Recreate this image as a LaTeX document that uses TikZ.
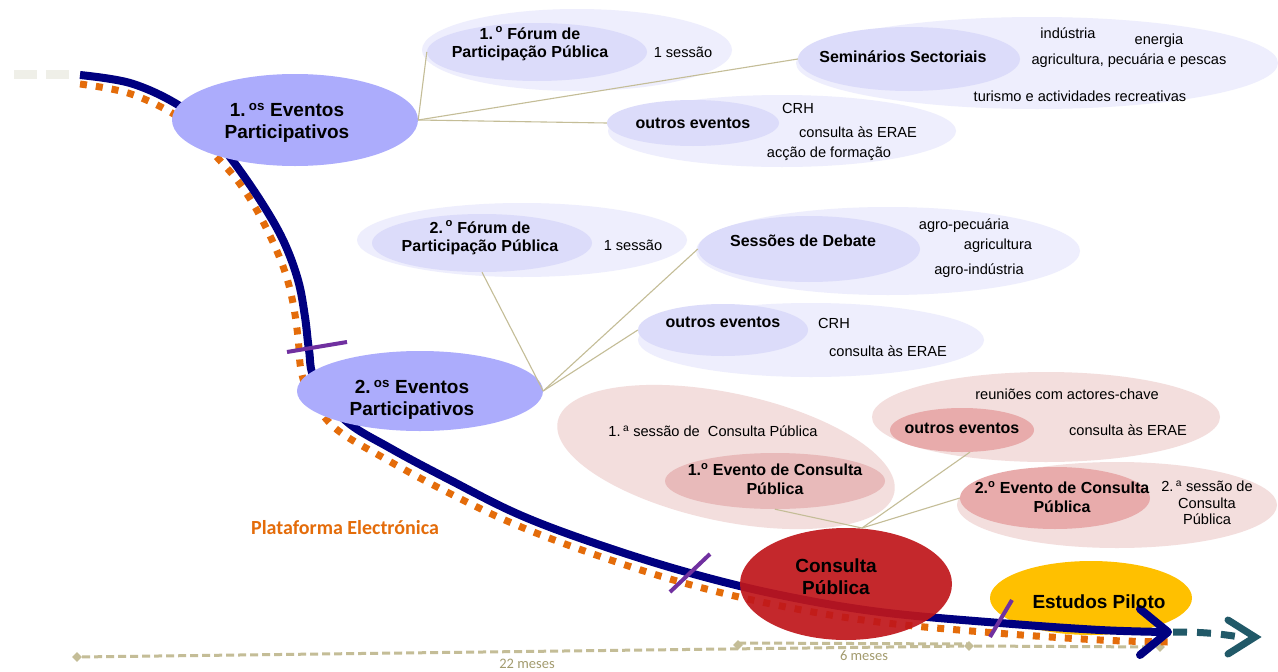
\documentclass[tikz,border=0pt]{standalone}
\usepackage{fontspec}
\setmainfont{Liberation Sans}
\newfontfamily\calib{Carlito}
\usetikzlibrary{shapes.geometric}
\definecolor{navyl}{HTML}{000080}
\definecolor{orangel}{HTML}{E46C0A}
\definecolor{purpl}{HTML}{7030A0}
\definecolor{teall}{HTML}{215968}
\definecolor{tanl}{HTML}{C4BD97}
\definecolor{tantext}{HTML}{A39B6E}
\definecolor{greyd}{HTML}{EFEFE8}
\definecolor{bigblue}{HTML}{ACACFC}
\definecolor{lavout}{HTML}{EEEEFD}
\definecolor{lavin}{HTML}{DCDCFA}
\definecolor{pinkout}{HTML}{F3DEDD}
\definecolor{pinkinA}{HTML}{E8BABA}
\definecolor{pinkinB}{HTML}{E8ABAB}
\definecolor{redc}{HTML}{C0161B}
\definecolor{yellowc}{HTML}{FFC000}
\begin{document}
\begin{tikzpicture}[x=1pt,y=-1pt,
  ell/.style={ellipse, inner sep=0pt, draw=none},
  bigt/.style={font=\fontsize{19}{22}\selectfont\bfseries, align=center, inner sep=0pt},
  hdt/.style={font=\fontsize{16}{18.5}\selectfont\bfseries, align=center, inner sep=0pt},
  subt/.style={font=\fontsize{14.6}{16.5}\selectfont, align=center, inner sep=0pt},
  conn/.style={draw=tanl, line width=1.1pt},
  tline/.style={draw=tanl, line width=3pt, dash pattern=on 8pt off 4pt},
  dia/.style={diamond, fill=tanl, inner sep=0pt, minimum size=10pt},
  tick/.style={draw=purpl, line width=4pt},
]
\useasboundingbox[fill=white] (0,0) rectangle (1278,672);

% timeline
\node[dia] (d0) at (77,657) {};
\node[dia] (d1) at (738,645) {};
\node[dia] (d2) at (969,646) {};
\node[dia] (d3) at (1160,647) {};
\draw[tline] (d0) -- (d2);
\draw[tline] ([yshift=2pt]d1.center) -- ([yshift=2pt]d2.center);
\draw[tline] (d2) -- (d3);
\node[font=\calib\fontsize{14.5}{16}\selectfont, text=tantext] (m22) at (527,664) {22 meses};
\node[font=\calib\fontsize{14.5}{16}\selectfont, text=tantext] (m6) at (864,656) {6 meses};

% start grey dashes
\draw[greyd, line width=9pt, dash pattern=on 23pt off 9pt] (14,74) -- (76,74);

% lavender groups
\node[ell, fill=lavout, minimum width=310pt, minimum height=82pt] (F1o) at (577,50) {};
\node[ell, fill=lavin, minimum width=220pt, minimum height=58pt] (F1i) at (537,52) {};
\node[ell, fill=lavout, minimum width=482pt, minimum height=92pt] (S1o) at (1037,63) {};
\node[ell, fill=lavin, minimum width=222pt, minimum height=64pt] (S1i) at (909,59) {};
\node[ell, fill=lavout, minimum width=348pt, minimum height=72pt] (O1o) at (782,131) {};
\node[ell, fill=lavin, minimum width=172pt, minimum height=46pt] (O1i) at (693,123) {};

\node[ell, fill=lavout, minimum width=330pt, minimum height=74pt] (F2o) at (522,240) {};
\node[ell, fill=lavin, minimum width=220pt, minimum height=58pt] (F2i) at (482,243) {};
\node[ell, fill=lavout, minimum width=384pt, minimum height=88pt] (S2o) at (888,251) {};
\node[ell, fill=lavin, minimum width=222pt, minimum height=66pt] (S2i) at (809,249) {};
\node[ell, fill=lavout, minimum width=346pt, minimum height=74pt] (O2o) at (811,340) {};
\node[ell, fill=lavin, minimum width=170pt, minimum height=52pt] (O2i) at (723,330) {};

% pink groups
\node[ell, fill=pinkout, minimum width=344pt, minimum height=128pt, rotate=-12] (C1o) at (726,457) {};
\node[ell, fill=pinkinA, minimum width=220pt, minimum height=56pt] (C1i) at (775,481) {};
\node[ell, fill=pinkout, minimum width=348pt, minimum height=90pt] (O3o) at (1046,417) {};
\node[ell, fill=pinkinB, minimum width=144pt, minimum height=44pt] (O3i) at (962,430) {};
\node[ell, fill=pinkout, minimum width=320pt, minimum height=86pt] (C2o) at (1117,505) {};
\node[ell, fill=pinkinB, minimum width=190pt, minimum height=62pt] (C2i) at (1055,498) {};

% yellow
\node[ell, fill=yellowc, minimum width=202pt, minimum height=74pt] (EP) at (1091,598) {};

% curves
\draw[orangel, line width=7pt, dash pattern=on 7pt off 9pt] plot[smooth, tension=0.6] coordinates {
 (80,84) (128,93) (172,113) (195,133) (215,155) (237,180) (255,207) (272,240) (285,272)
 (293,303) (298,337) (301,370) (310,395) (335,428) (382,457) (443,490) (514,524)
 (596,555) (684,583) (776,605) (878,622) (996,633) (1100,640) (1168,642)};
\draw[navyl, line width=8pt] plot[smooth, tension=0.6] coordinates {
 (80,75) (130,83) (175,103) (205,127) (230,157) (260,200) (283,240) (298,280) (305,317)
 (309,350) (315,380) (345,420) (390,448) (450,480) (520,515) (600,545) (690,573)
 (780,595) (880,612) (1000,623) (1100,630) (1166,632)};

% big ellipses
\node[ell, fill=bigblue, minimum width=246pt, minimum height=92pt] (E1) at (295,120) {};
\node[ell, fill=bigblue, minimum width=246pt, minimum height=80pt] (E2) at (420,391) {};
\node[ell, fill=redc, fill opacity=0.92, minimum width=212pt, minimum height=112pt] (CP) at (846,584) {};

% ticks
\draw[tick] (287,352) -- (347,342);
\draw[tick] (670,592) -- (710,554);
\draw[tick] (990,637) -- (1012,600);

% arrow heads
\draw[navyl, line width=8pt, line cap=round, line join=round] (1140,609) -- (1168,632) -- (1140,655);
\draw[teall, line width=7pt, dash pattern=on 14pt off 10pt] (1173,632) .. controls (1200,632) and (1215,633) .. (1240,637);
\draw[teall, line width=7pt, line cap=round, line join=miter] (1228,620) -- (1255,637) -- (1228,654);

% connectors
\draw[conn] (E1.east) -- (F1i.west);
\draw[conn] (E1.east) -- (S1i.west);
\draw[conn] (E1.east) -- (O1i.west);
\draw[conn] (E2.east) -- (F2i.south);
\draw[conn] (E2.east) -- (S2i.west);
\draw[conn] (E2.east) -- (O2i.west);
\coordinate (cpj) at (862,528);
\draw[conn] (cpj) -- (C1i.south);
\draw[conn] (cpj) -- (O3i.-70);
\draw[conn] (cpj) -- (C2i.west);

% texts
\node[bigt] (tE1) at (287,123) {1.\,\textsuperscript{os} Eventos\\Participativos};
\node[bigt] (tE2) at (412,400) {2.\,\textsuperscript{os} Eventos\\Participativos};
\node[hdt] (tF1) at (530,44) {1.\,\textsuperscript{o} Fórum de\\Participação Pública};
\node[subt] (tF1s) at (683,52) {1 sessão};
\node[hdt] (tS1) at (903,57) {Seminários Sectoriais};
\node[subt] (tS1a) at (1068,33) {indústria};
\node[subt] (tS1b) at (1159,41) {energia};
\node[subt] (tS1c) at (1129,61) {agricultura, pecuária e pescas};
\node[subt] (tS1d) at (1080,96) {turismo e actividades recreativas};
\node[hdt] (tO1) at (693,123) {outros eventos};
\node[subt] (tO1a) at (798,108) {CRH};
\node[subt] (tO1b) at (858,132) {consulta às ERAE};
\node[subt] (tO1c) at (829,154) {acção de formação};

\node[hdt] (tF2) at (480,238) {2.\,\textsuperscript{o} Fórum de\\Participação Pública};
\node[subt] (tF2s) at (633,245) {1 sessão};
\node[hdt] (tS2) at (803,241) {Sessões de Debate};
\node[subt] (tS2a) at (964,226) {agro-pecuária};
\node[subt] (tS2b) at (998,246) {agricultura};
\node[subt] (tS2c) at (979,271) {agro-indústria};
\node[hdt] (tO2) at (723,322) {outros eventos};
\node[subt] (tO2a) at (834,323) {CRH};
\node[subt] (tO2b) at (888,351) {consulta às ERAE};

\node[subt] (tC1s) at (713,431) {1.\,\textsuperscript{a} sessão de\ \ Consulta Pública};
\node[hdt] (tC1) at (775,479) {1.\textsuperscript{o} Evento de Consulta\\Pública};
\node[subt] (tO3a) at (1067,394) {reuniões com actores-chave};
\node[hdt] (tO3) at (962,428) {outros eventos};
\node[subt] (tO3b) at (1128,430) {consulta às ERAE};
\node[hdt] (tC2) at (1062,497) {2.\textsuperscript{o} Evento de Consulta\\Pública};
\node[subt] (tC2s) at (1207,503) {2.\,\textsuperscript{a} sessão de\\Consulta\\Pública};

\node[bigt] (tCP) at (836,577) {Consulta\\Pública};
\node[bigt] (tEP) at (1099,602) {Estudos Piloto};
\node[font=\calib\fontsize{20}{22}\selectfont\bfseries, text=orangel] (tPE) at (345,528) {Plataforma Electrónica};
\end{tikzpicture}
\end{document}
